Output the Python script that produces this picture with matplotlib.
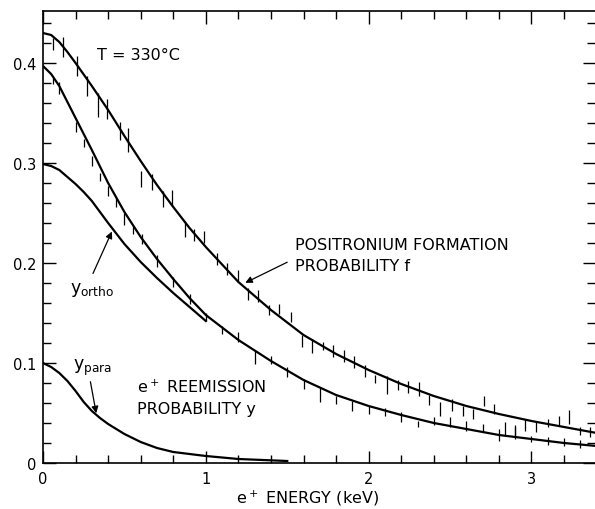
"""Positronium formation / e+ reemission probability vs. e+ energy (T = 330 C)."""

import matplotlib

matplotlib.use("Agg")
import matplotlib.pyplot as plt
from matplotlib.ticker import FuncFormatter, MultipleLocator

# fitted curves (energy in keV)
f_curve_x = [0, 0.05, 0.1, 0.15, 0.2, 0.3, 0.4, 0.5, 0.6, 0.7, 0.8, 0.9, 1.0, 1.2, 1.4,
             1.6, 1.8, 2.0, 2.2, 2.4, 2.6, 2.8, 3.0, 3.2, 3.4]
f_curve_y = [0.430, 0.428, 0.421, 0.411, 0.400, 0.377, 0.353, 0.327, 0.302, 0.278, 0.256,
             0.235, 0.216, 0.181, 0.153, 0.128, 0.109, 0.093, 0.079, 0.067, 0.057, 0.049,
             0.042, 0.036, 0.030]

y_curve_x = [0, 0.05, 0.1, 0.15, 0.2, 0.3, 0.4, 0.5, 0.6, 0.7, 0.8, 0.9, 1.0, 1.2, 1.4,
             1.6, 1.8, 2.0, 2.2, 2.4, 2.6, 2.8, 3.0, 3.2, 3.4]
y_curve_y = [0.397, 0.389, 0.377, 0.361, 0.345, 0.313, 0.280, 0.251, 0.226, 0.204, 0.184,
             0.165, 0.148, 0.123, 0.102, 0.083, 0.068, 0.057, 0.048, 0.040, 0.034, 0.028,
             0.024, 0.020, 0.017]

ortho_x = [0, 0.05, 0.1, 0.15, 0.2, 0.25, 0.3, 0.35, 0.4, 0.5, 0.6, 0.7, 0.8, 0.9, 1.0]
ortho_y = [0.299, 0.297, 0.293, 0.286, 0.279, 0.271, 0.262, 0.251, 0.240, 0.219, 0.201,
           0.185, 0.170, 0.156, 0.142]

para_x = [0, 0.05, 0.1, 0.15, 0.2, 0.25, 0.3, 0.35, 0.4, 0.5, 0.6, 0.7, 0.8, 1.0, 1.2, 1.5]
para_y = [0.100, 0.096, 0.090, 0.082, 0.072, 0.061, 0.052, 0.045, 0.039, 0.029, 0.021,
          0.015, 0.011, 0.007, 0.004, 0.002]

# measured points with error bars
f_x = [0.06, 0.12, 0.21, 0.27, 0.34, 0.39, 0.47, 0.52, 0.60, 0.67, 0.74, 0.79, 0.87, 0.93,
       0.99, 1.07, 1.13, 1.20, 1.26, 1.32, 1.39, 1.45, 1.52, 1.59, 1.65, 1.72, 1.78, 1.85,
       1.91, 1.98, 2.04, 2.11, 2.18, 2.24, 2.31, 2.37, 2.44, 2.51, 2.58, 2.64, 2.71, 2.77,
       2.84, 2.90, 2.96, 3.03, 3.10, 3.17, 3.23, 3.30, 3.36]
f_y = [0.419, 0.416, 0.397, 0.377, 0.358, 0.354, 0.332, 0.323, 0.284, 0.281, 0.264, 0.265,
       0.234, 0.228, 0.226, 0.204, 0.194, 0.187, 0.169, 0.167, 0.153, 0.154, 0.146, 0.122,
       0.117, 0.117, 0.112, 0.107, 0.101, 0.092, 0.084, 0.078, 0.078, 0.076, 0.074, 0.063,
       0.054, 0.058, 0.052, 0.049, 0.062, 0.054, 0.034, 0.032, 0.038, 0.036, 0.040, 0.042,
       0.046, 0.032, 0.031]
f_err = [0.006, 0.010, 0.010, 0.010, 0.012, 0.010, 0.009, 0.012, 0.008, 0.008, 0.008, 0.008,
         0.008, 0.006, 0.006, 0.006, 0.006, 0.006, 0.006, 0.006, 0.005, 0.005, 0.005, 0.006,
         0.007, 0.004, 0.006, 0.006, 0.006, 0.006, 0.004, 0.009, 0.005, 0.006, 0.007, 0.005,
         0.007, 0.006, 0.005, 0.005, 0.005, 0.005, 0.007, 0.006, 0.006, 0.005, 0.004, 0.005,
         0.007, 0.004, 0.005]

y_x = [0.06, 0.10, 0.20, 0.25, 0.30, 0.35, 0.40, 0.45, 0.50, 0.55, 0.61, 0.70, 0.80, 0.90,
       1.00, 1.10, 1.20, 1.30, 1.40, 1.50, 1.60, 1.70, 1.80, 1.90, 2.00, 2.10, 2.20, 2.30,
       2.40, 2.50, 2.60, 2.70, 2.80, 2.90, 3.00, 3.10, 3.20, 3.30]
y_y = [0.382, 0.375, 0.336, 0.320, 0.302, 0.286, 0.272, 0.261, 0.244, 0.233, 0.224, 0.202,
       0.181, 0.164, 0.146, 0.133, 0.126, 0.106, 0.103, 0.091, 0.079, 0.068, 0.063, 0.057,
       0.053, 0.051, 0.046, 0.039, 0.042, 0.041, 0.037, 0.035, 0.028, 0.030, 0.024, 0.022,
       0.021, 0.019]
y_err = [0.003, 0.006, 0.005, 0.004, 0.005, 0.004, 0.005, 0.005, 0.006, 0.004, 0.005, 0.006,
         0.005, 0.005, 0.004, 0.004, 0.005, 0.007, 0.004, 0.005, 0.005, 0.007, 0.004, 0.005,
         0.004, 0.004, 0.005, 0.003, 0.004, 0.005, 0.005, 0.004, 0.006, 0.006, 0.003, 0.004,
         0.004, 0.004]

plt.rcParams["font.family"] = "DejaVu Sans"

fig = plt.figure(figsize=(5.95, 5.10), dpi=100)
ax = fig.add_axes([43 / 595, 46 / 510, 552 / 595, 452 / 510])

for cx, cy in [(f_curve_x, f_curve_y), (y_curve_x, y_curve_y),
               (ortho_x, ortho_y), (para_x, para_y)]:
    ax.plot(cx, cy, color="black", lw=1.6, solid_joinstyle="round")
ax.errorbar(f_x, f_y, yerr=f_err, fmt="none", ecolor="black", elinewidth=0.9, capsize=0)
ax.errorbar(y_x, y_y, yerr=y_err, fmt="none", ecolor="black", elinewidth=0.9, capsize=0)

ax.set_xlim(0, 3.39)
ax.set_ylim(0, 0.452)
ax.xaxis.set_major_locator(MultipleLocator(1))
ax.xaxis.set_minor_locator(MultipleLocator(0.2))
ax.yaxis.set_major_locator(MultipleLocator(0.1))
ax.yaxis.set_minor_locator(MultipleLocator(0.02))
ax.xaxis.set_major_formatter(FuncFormatter(lambda v, p: f"{v:g}"))
ax.yaxis.set_major_formatter(FuncFormatter(lambda v, p: "0" if v == 0 else f"{v:.1f}"))
ax.tick_params(which="both", direction="in", top=True, right=True, width=1.0, labelsize=10.5)
ax.tick_params(which="major", length=9)
ax.tick_params(which="minor", length=6)
ax.tick_params(axis="x", pad=6)
ax.tick_params(axis="y", pad=5)
for side in ["left", "bottom", "top"]:
    ax.spines[side].set_linewidth(1.2)
ax.spines["right"].set_visible(False)

ax.set_xlabel("e$^+$ ENERGY (keV)", fontsize=11.5, x=0.48, labelpad=1)

txt = dict(fontsize=11.5, color="black")
ax.text(0.33, 0.409, "T = 330°C", va="center", **txt)
ax.text(1.55, 0.208, "POSITRONIUM FORMATION\nPROBABILITY f", va="center",
        linespacing=1.55, **txt)
ax.text(0.575, 0.066, "e$^+$ REEMISSION\nPROBABILITY y", va="center",
        linespacing=1.45, **txt)
ax.text(0.165, 0.174, "y$_{\\mathrm{ortho}}$", va="center", fontsize=12.5)
ax.text(0.185, 0.096, "y$_{\\mathrm{para}}$", va="center", fontsize=12.5)

arrow = dict(arrowstyle="-|>", color="black", lw=0.9, mutation_scale=10)
ax.annotate("", xy=(0.43, 0.234), xytext=(0.30, 0.187), arrowprops=arrow)
ax.annotate("", xy=(0.33, 0.047), xytext=(0.288, 0.084), arrowprops=arrow)
ax.annotate("", xy=(1.227, 0.179), xytext=(1.515, 0.202), arrowprops=arrow)

fig.savefig("out.png", dpi=100)
